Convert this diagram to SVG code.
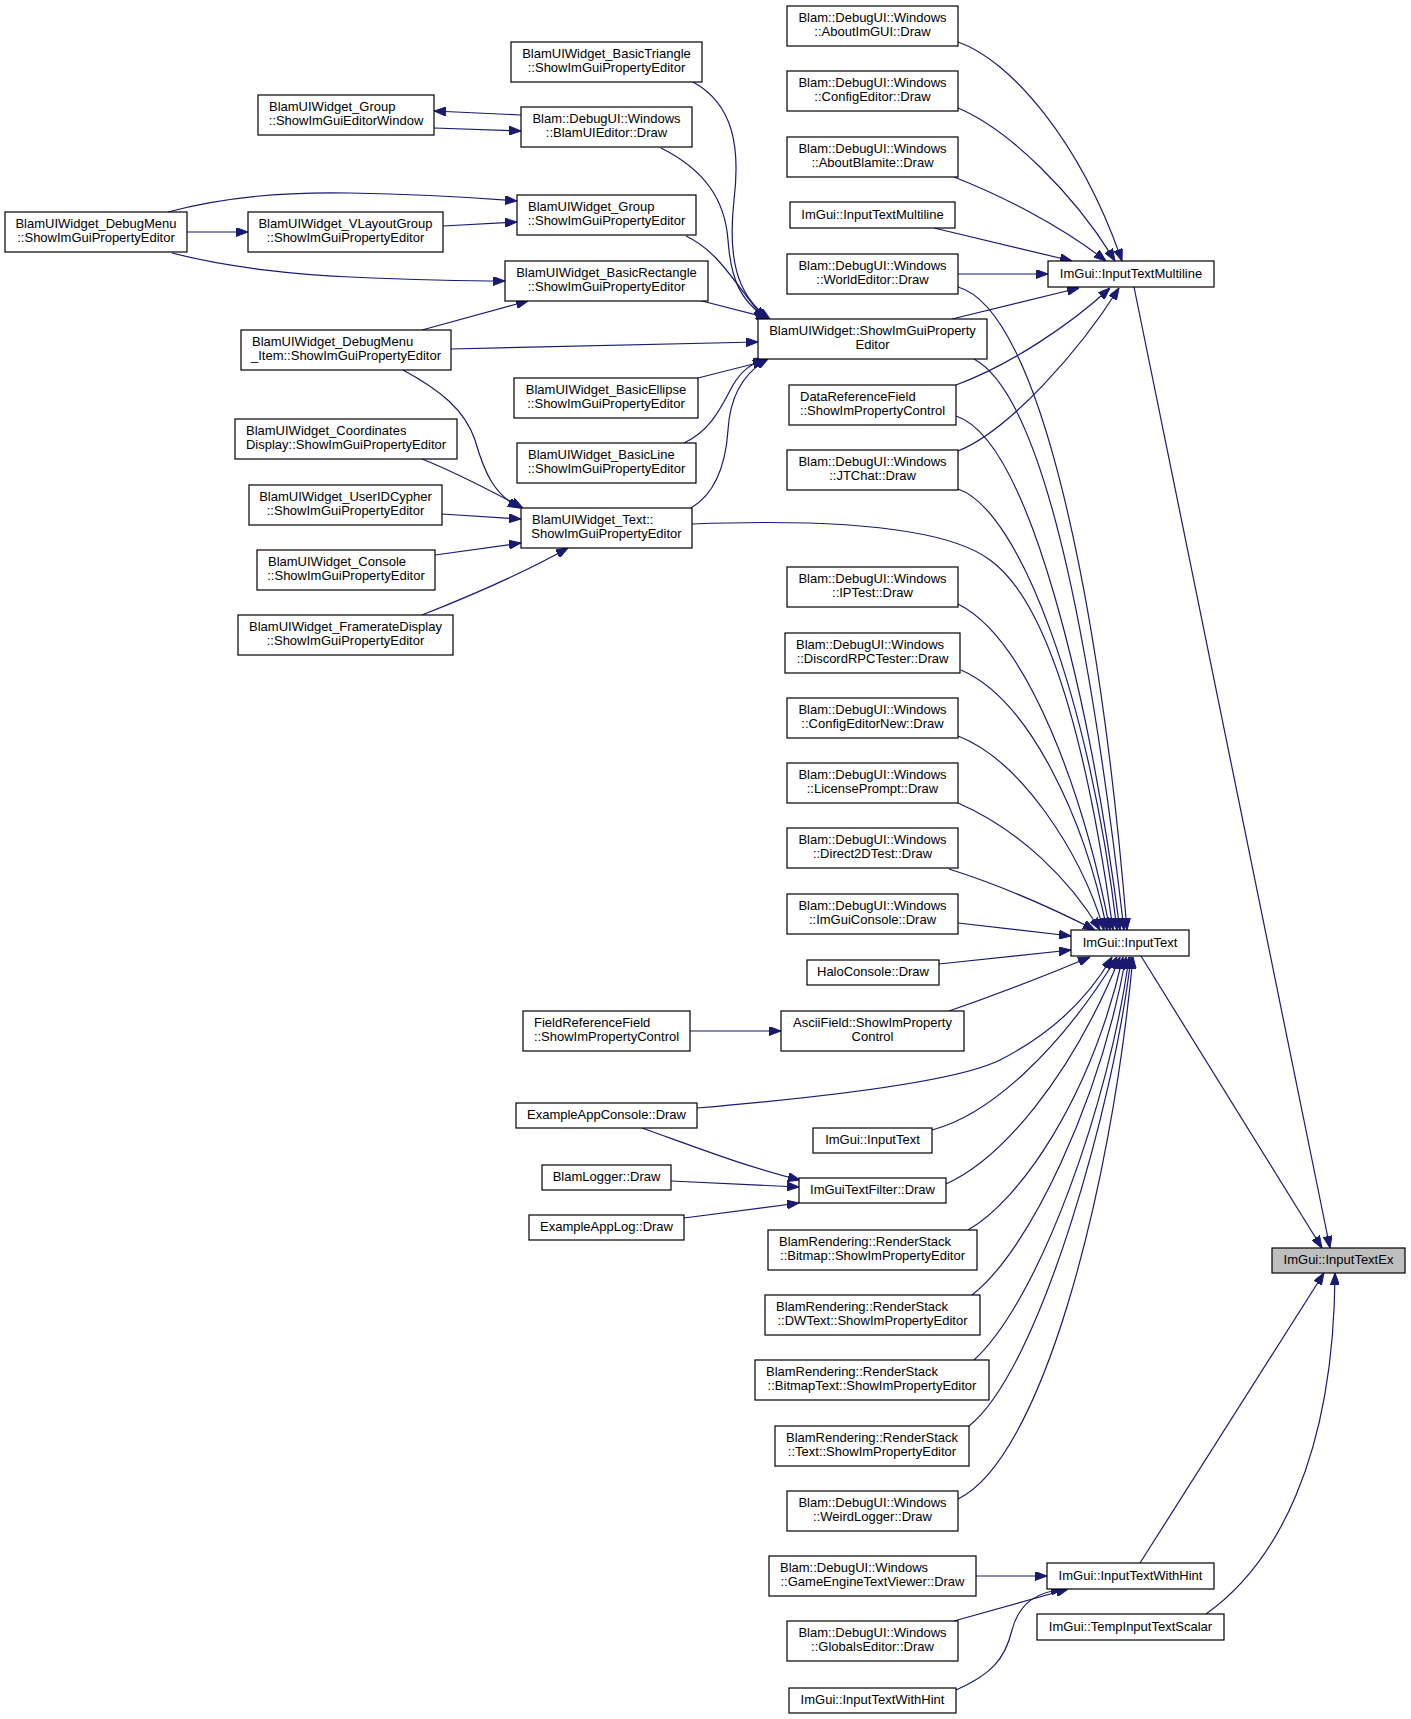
<svg xmlns="http://www.w3.org/2000/svg" width="1411" height="1719" viewBox="0 0 1411 1719">
<defs>
<style>
.n rect{fill:#fff;stroke:#000;stroke-width:1.2}
.n.hl rect{fill:#bfbfbf}
text{font-family:"Liberation Sans",Arial,Helvetica,sans-serif;font-size:13px;fill:#000}
.n text{transform:translate(0px,-0.8px)}
.m{text-anchor:middle}
#edges path{fill:none;stroke:#191970;stroke-width:1.2;marker-end:url(#arr)}
</style>
<marker id="arr" markerUnits="userSpaceOnUse" viewBox="0 0 12 9" refX="12" refY="4.5" markerWidth="12" markerHeight="9" orient="auto">
<path d="M0,0 L12,4.5 L0,9 z" fill="#191970" stroke="#191970" stroke-width="1"/>
</marker>
</defs>
<rect width="1411" height="1719" fill="#fff"/>
<g id="edges">
<path d="M1134,287 L1330,1248"/>
<path d="M1141,956 L1322,1248"/>
<path d="M1140,1563 L1324,1273"/>
<path d="M1206,1614 C1275,1565 1334,1460 1335,1273"/>
<path d="M958,42 C1010,60 1080,140 1122,261"/>
<path d="M958,108 C1010,130 1075,195 1115,261"/>
<path d="M954,177 C1000,195 1060,225 1106,261"/>
<path d="M934,228 L1072,261"/>
<path d="M958,274 L1048,274"/>
<path d="M952,319 L1079,288"/>
<path d="M956,385 C1010,365 1070,325 1110,288"/>
<path d="M958,451 C1010,430 1080,350 1119,288"/>
<path d="M958,287 C1040,310 1100,600 1127,930"/>
<path d="M974,359 C1050,400 1095,680 1124,930"/>
<path d="M956,416 C1030,440 1090,700 1120,930"/>
<path d="M958,489 C1020,510 1090,700 1117,930"/>
<path d="M692,524 C850,518 950,530 990,560 C1060,610 1095,800 1113,930"/>
<path d="M958,604 C1030,640 1085,800 1110,930"/>
<path d="M961,670 C1030,700 1085,820 1107,930"/>
<path d="M958,736 C1020,760 1080,850 1104,930"/>
<path d="M958,803 C1020,830 1070,880 1100,930"/>
<path d="M949,869 C990,882 1040,902 1095,930"/>
<path d="M958,923 L1071,936"/>
<path d="M939,964 L1071,950"/>
<path d="M949,1011 C990,997 1040,978 1090,957"/>
<path d="M697,1108 C850,1095 960,1080 1000,1060 C1055,1032 1090,995 1112,957"/>
<path d="M932,1130 C990,1115 1060,1050 1117,957"/>
<path d="M946,1184 C1000,1160 1070,1080 1120,957"/>
<path d="M968,1230 C1020,1200 1090,1100 1123,957"/>
<path d="M972,1295 C1030,1250 1100,1100 1126,957"/>
<path d="M974,1360 C1040,1300 1110,1100 1129,957"/>
<path d="M969,1426 C1040,1370 1115,1100 1131,957"/>
<path d="M958,1499 C1040,1460 1110,1200 1133,957"/>
<path d="M693,82 C735,105 740,150 734,200 C728,255 735,295 770,319"/>
<path d="M661,148 C705,170 725,200 728,240 C731,280 740,300 767,319"/>
<path d="M686,236 C720,252 735,285 765,319"/>
<path d="M698,300 L768,318"/>
<path d="M451,349 L758,342"/>
<path d="M698,378 L765,361"/>
<path d="M684,443 C712,430 722,405 733,385 C742,370 752,363 766,359"/>
<path d="M691,508 C718,492 726,460 728,430 C730,395 745,372 768,359"/>
<path d="M521,115 L434,111"/>
<path d="M434,128 L521,131"/>
<path d="M168,212 C230,195 300,192 350,193 C420,194 480,198 517,201"/>
<path d="M443,226 L517,222"/>
<path d="M187,232 L248,232"/>
<path d="M172,253 C230,268 300,275 350,277 C420,280 470,281 505,281"/>
<path d="M422,330 L528,301"/>
<path d="M403,370 C440,390 465,410 475,440 C485,475 495,495 520,508"/>
<path d="M422,459 C450,470 480,485 523,508"/>
<path d="M442,514 L521,519"/>
<path d="M435,555 L521,543"/>
<path d="M422,615 C460,600 520,575 568,548"/>
<path d="M690,1031 L781,1031"/>
<path d="M642,1128 C690,1145 740,1165 800,1180"/>
<path d="M671,1181 L799,1187"/>
<path d="M684,1218 L799,1203"/>
<path d="M976,1576 L1047,1576"/>
<path d="M954,1621 L1068,1589"/>
<path d="M956,1690 C990,1675 1005,1660 1012,1630 C1020,1600 1040,1592 1063,1589"/>
</g>
<g id="n1" class="n"><rect x="5" y="212" width="182" height="40"/><text x="96" y="228.5" class="m">BlamUIWidget_DebugMenu</text><text x="96" y="243" class="m">::ShowImGuiPropertyEditor</text></g>
<g id="n2" class="n"><rect x="258" y="95" width="176" height="40"/><text x="269" y="111.5">BlamUIWidget_Group</text><text x="346" y="126" class="m">::ShowImGuiEditorWindow</text></g>
<g id="n3" class="n"><rect x="248" y="212" width="195" height="40"/><text x="345.5" y="228.5" class="m">BlamUIWidget_VLayoutGroup</text><text x="345.5" y="243" class="m">::ShowImGuiPropertyEditor</text></g>
<g id="n4" class="n"><rect x="511" y="42" width="191" height="40"/><text x="606.5" y="58.5" class="m">BlamUIWidget_BasicTriangle</text><text x="606.5" y="73" class="m">::ShowImGuiPropertyEditor</text></g>
<g id="n5" class="n"><rect x="521" y="107" width="171" height="40"/><text x="606.5" y="123.5" class="m">Blam::DebugUI::Windows</text><text x="606.5" y="138" class="m">::BlamUIEditor::Draw</text></g>
<g id="n6" class="n"><rect x="517" y="195" width="179" height="40"/><text x="528" y="211.5">BlamUIWidget_Group</text><text x="606.5" y="226" class="m">::ShowImGuiPropertyEditor</text></g>
<g id="n7" class="n"><rect x="505" y="261" width="203" height="40"/><text x="606.5" y="277.5" class="m">BlamUIWidget_BasicRectangle</text><text x="606.5" y="292" class="m">::ShowImGuiPropertyEditor</text></g>
<g id="n8" class="n"><rect x="241" y="330" width="210" height="40"/><text x="252" y="346.5">BlamUIWidget_DebugMenu</text><text x="346" y="361" class="m">_Item::ShowImGuiPropertyEditor</text></g>
<g id="n9" class="n"><rect x="514" y="378" width="184" height="40"/><text x="606" y="394.5" class="m">BlamUIWidget_BasicEllipse</text><text x="606" y="409" class="m">::ShowImGuiPropertyEditor</text></g>
<g id="n10" class="n"><rect x="235" y="419" width="222" height="40"/><text x="246" y="435.5">BlamUIWidget_Coordinates</text><text x="346" y="450" class="m">Display::ShowImGuiPropertyEditor</text></g>
<g id="n11" class="n"><rect x="517" y="443" width="179" height="40"/><text x="528" y="459.5">BlamUIWidget_BasicLine</text><text x="606.5" y="474" class="m">::ShowImGuiPropertyEditor</text></g>
<g id="n12" class="n"><rect x="249" y="485" width="193" height="40"/><text x="345.5" y="501.5" class="m">BlamUIWidget_UserIDCypher</text><text x="345.5" y="516" class="m">::ShowImGuiPropertyEditor</text></g>
<g id="n13" class="n"><rect x="521" y="508" width="171" height="40"/><text x="532" y="524.5">BlamUIWidget_Text::</text><text x="606.5" y="539" class="m">ShowImGuiPropertyEditor</text></g>
<g id="n14" class="n"><rect x="257" y="550" width="178" height="40"/><text x="268" y="566.5">BlamUIWidget_Console</text><text x="346" y="581" class="m">::ShowImGuiPropertyEditor</text></g>
<g id="n15" class="n"><rect x="238" y="615" width="215" height="40"/><text x="345.5" y="631.5" class="m">BlamUIWidget_FramerateDisplay</text><text x="345.5" y="646" class="m">::ShowImGuiPropertyEditor</text></g>
<g id="n16" class="n"><rect x="758" y="319" width="229" height="40"/><text x="872.5" y="335.5" class="m">BlamUIWidget::ShowImGuiProperty</text><text x="872.5" y="350" class="m">Editor</text></g>
<g id="n17" class="n"><rect x="787" y="6" width="171" height="40"/><text x="872.5" y="22.5" class="m">Blam::DebugUI::Windows</text><text x="872.5" y="37" class="m">::AboutImGUI::Draw</text></g>
<g id="n18" class="n"><rect x="787" y="71" width="171" height="40"/><text x="872.5" y="87.5" class="m">Blam::DebugUI::Windows</text><text x="872.5" y="102" class="m">::ConfigEditor::Draw</text></g>
<g id="n19" class="n"><rect x="787" y="137" width="171" height="40"/><text x="872.5" y="153.5" class="m">Blam::DebugUI::Windows</text><text x="872.5" y="168" class="m">::AboutBlamite::Draw</text></g>
<g id="n20" class="n"><rect x="790" y="202" width="165" height="26"/><text x="872.5" y="219.5" class="m">ImGui::InputTextMultiline</text></g>
<g id="n21" class="n"><rect x="787" y="254" width="171" height="40"/><text x="872.5" y="270.5" class="m">Blam::DebugUI::Windows</text><text x="872.5" y="285" class="m">::WorldEditor::Draw</text></g>
<g id="n22" class="n"><rect x="1048" y="261" width="166" height="26"/><text x="1131" y="278.5" class="m">ImGui::InputTextMultiline</text></g>
<g id="n23" class="n"><rect x="789" y="385" width="167" height="40"/><text x="800" y="401.5">DataReferenceField</text><text x="872.5" y="416" class="m">::ShowImPropertyControl</text></g>
<g id="n24" class="n"><rect x="787" y="450" width="171" height="40"/><text x="872.5" y="466.5" class="m">Blam::DebugUI::Windows</text><text x="872.5" y="481" class="m">::JTChat::Draw</text></g>
<g id="n25" class="n"><rect x="787" y="567" width="171" height="40"/><text x="872.5" y="583.5" class="m">Blam::DebugUI::Windows</text><text x="872.5" y="598" class="m">::IPTest::Draw</text></g>
<g id="n26" class="n"><rect x="785" y="633" width="175" height="40"/><text x="796" y="649.5">Blam::DebugUI::Windows</text><text x="872.5" y="664" class="m">::DiscordRPCTester::Draw</text></g>
<g id="n27" class="n"><rect x="787" y="698" width="171" height="40"/><text x="872.5" y="714.5" class="m">Blam::DebugUI::Windows</text><text x="872.5" y="729" class="m">::ConfigEditorNew::Draw</text></g>
<g id="n28" class="n"><rect x="787" y="763" width="171" height="40"/><text x="872.5" y="779.5" class="m">Blam::DebugUI::Windows</text><text x="872.5" y="794" class="m">::LicensePrompt::Draw</text></g>
<g id="n29" class="n"><rect x="787" y="828" width="171" height="40"/><text x="872.5" y="844.5" class="m">Blam::DebugUI::Windows</text><text x="872.5" y="859" class="m">::Direct2DTest::Draw</text></g>
<g id="n30" class="n"><rect x="787" y="894" width="171" height="40"/><text x="872.5" y="910.5" class="m">Blam::DebugUI::Windows</text><text x="872.5" y="925" class="m">::ImGuiConsole::Draw</text></g>
<g id="n31" class="n"><rect x="1071" y="930" width="118" height="26"/><text x="1130" y="947.5" class="m">ImGui::InputText</text></g>
<g id="n32" class="n"><rect x="807" y="960" width="132" height="25"/><text x="873" y="977" class="m">HaloConsole::Draw</text></g>
<g id="n33" class="n"><rect x="781" y="1011" width="183" height="40"/><text x="872.5" y="1027.5" class="m">AsciiField::ShowImProperty</text><text x="872.5" y="1042" class="m">Control</text></g>
<g id="n34" class="n"><rect x="523" y="1011" width="167" height="40"/><text x="534" y="1027.5">FieldReferenceField</text><text x="606.5" y="1042" class="m">::ShowImPropertyControl</text></g>
<g id="n35" class="n"><rect x="516" y="1103" width="181" height="25"/><text x="606.5" y="1120" class="m">ExampleAppConsole::Draw</text></g>
<g id="n36" class="n"><rect x="813" y="1128" width="119" height="25"/><text x="872.5" y="1145" class="m">ImGui::InputText</text></g>
<g id="n37" class="n"><rect x="542" y="1165" width="129" height="25"/><text x="606.5" y="1182" class="m">BlamLogger::Draw</text></g>
<g id="n38" class="n"><rect x="799" y="1178" width="147" height="25"/><text x="872.5" y="1195" class="m">ImGuiTextFilter::Draw</text></g>
<g id="n39" class="n"><rect x="529" y="1215" width="155" height="25"/><text x="606.5" y="1232" class="m">ExampleAppLog::Draw</text></g>
<g id="n40" class="n"><rect x="768" y="1230" width="209" height="40"/><text x="779" y="1246.5">BlamRendering::RenderStack</text><text x="872.5" y="1261" class="m">::Bitmap::ShowImPropertyEditor</text></g>
<g id="n41" class="n hl"><rect x="1272" y="1248" width="133" height="25"/><text x="1338.5" y="1265" class="m">ImGui::InputTextEx</text></g>
<g id="n42" class="n"><rect x="765" y="1295" width="215" height="40"/><text x="776" y="1311.5">BlamRendering::RenderStack</text><text x="872.5" y="1326" class="m">::DWText::ShowImPropertyEditor</text></g>
<g id="n43" class="n"><rect x="755" y="1360" width="234" height="40"/><text x="766" y="1376.5">BlamRendering::RenderStack</text><text x="872" y="1391" class="m">::BitmapText::ShowImPropertyEditor</text></g>
<g id="n44" class="n"><rect x="775" y="1426" width="194" height="40"/><text x="786" y="1442.5">BlamRendering::RenderStack</text><text x="872" y="1457" class="m">::Text::ShowImPropertyEditor</text></g>
<g id="n45" class="n"><rect x="787" y="1491" width="171" height="40"/><text x="872.5" y="1507.5" class="m">Blam::DebugUI::Windows</text><text x="872.5" y="1522" class="m">::WeirdLogger::Draw</text></g>
<g id="n46" class="n"><rect x="769" y="1556" width="207" height="40"/><text x="780" y="1572.5">Blam::DebugUI::Windows</text><text x="872.5" y="1587" class="m">::GameEngineTextViewer::Draw</text></g>
<g id="n47" class="n"><rect x="1047" y="1563" width="167" height="26"/><text x="1130.5" y="1580.5" class="m">ImGui::InputTextWithHint</text></g>
<g id="n48" class="n"><rect x="1037" y="1614" width="187" height="26"/><text x="1130.5" y="1631.5" class="m">ImGui::TempInputTextScalar</text></g>
<g id="n49" class="n"><rect x="787" y="1621" width="171" height="40"/><text x="872.5" y="1637.5" class="m">Blam::DebugUI::Windows</text><text x="872.5" y="1652" class="m">::GlobalsEditor::Draw</text></g>
<g id="n50" class="n"><rect x="789" y="1688" width="167" height="25"/><text x="872.5" y="1705" class="m">ImGui::InputTextWithHint</text></g>
</svg>
